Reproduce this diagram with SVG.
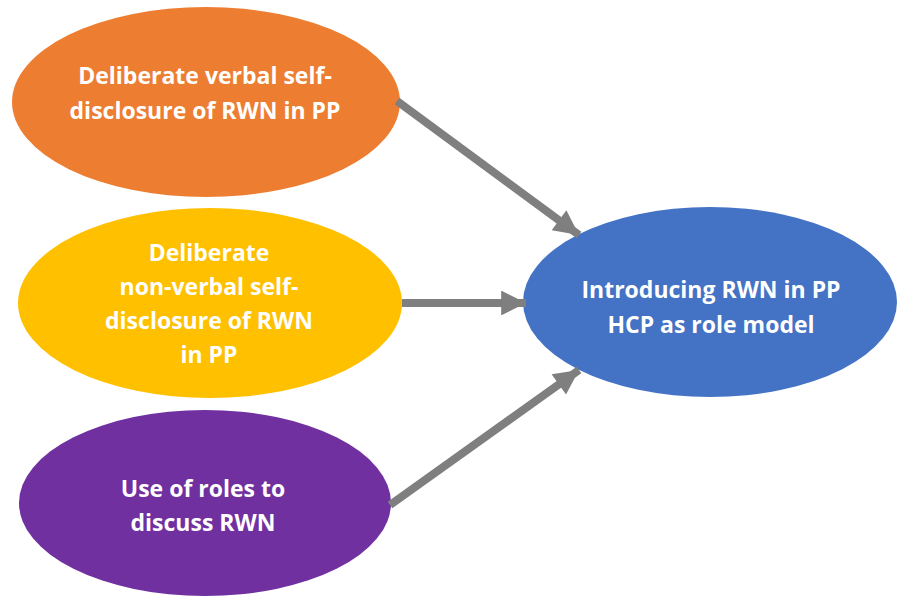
<svg xmlns="http://www.w3.org/2000/svg" width="914" height="597" viewBox="0 0 914 597">
  <style>
    .lbl { font-family: "Open Sans", "Liberation Sans", sans-serif; font-weight: bold; font-size: 23px; fill: #ffffff; text-anchor: middle; }
    .conn { stroke: #7f7f7f; stroke-width: 8; fill: none; }
  </style>
  <defs>
    <marker id="arrow" viewBox="0 0 10 10" refX="10" refY="5" markerWidth="3.3" markerHeight="3.1" orient="auto" markerUnits="strokeWidth">
      <path d="M0,0 L10,5 L0,10 Z" fill="#7f7f7f"/>
    </marker>
  </defs>
  <rect width="914" height="597" fill="#ffffff"/>

  <g id="node-verbal">
    <ellipse cx="206" cy="102" rx="194" ry="95" fill="#ed7d31"/>
    <text class="lbl" x="205" y="84">Deliberate verbal self-</text>
    <text class="lbl" x="205" y="119">disclosure of RWN in PP</text>
  </g>

  <g id="node-nonverbal">
    <ellipse cx="210" cy="303" rx="192" ry="95" fill="#ffc000"/>
    <text class="lbl" x="209" y="261">Deliberate</text>
    <text class="lbl" x="209" y="295">non-verbal self-</text>
    <text class="lbl" x="209" y="329">disclosure of RWN</text>
    <text class="lbl" x="209" y="363">in PP</text>
  </g>

  <g id="node-roles">
    <ellipse cx="205" cy="503" rx="186" ry="93" fill="#7030a0"/>
    <text class="lbl" x="203" y="497">Use of roles to</text>
    <text class="lbl" x="203" y="531">discuss RWN</text>
  </g>

  <g id="node-target">
    <ellipse cx="710" cy="302" rx="187" ry="95" fill="#4472c4"/>
    <text class="lbl" x="711" y="298">Introducing RWN in PP</text>
    <text class="lbl" x="711" y="333">HCP as role model</text>
  </g>

  <g id="connectors">
    <line class="conn" x1="397" y1="101" x2="579" y2="235" marker-end="url(#arrow)"/>
    <line class="conn" x1="402" y1="303" x2="526" y2="303" marker-end="url(#arrow)"/>
    <line class="conn" x1="390" y1="505" x2="579" y2="370" marker-end="url(#arrow)"/>
  </g>
</svg>
